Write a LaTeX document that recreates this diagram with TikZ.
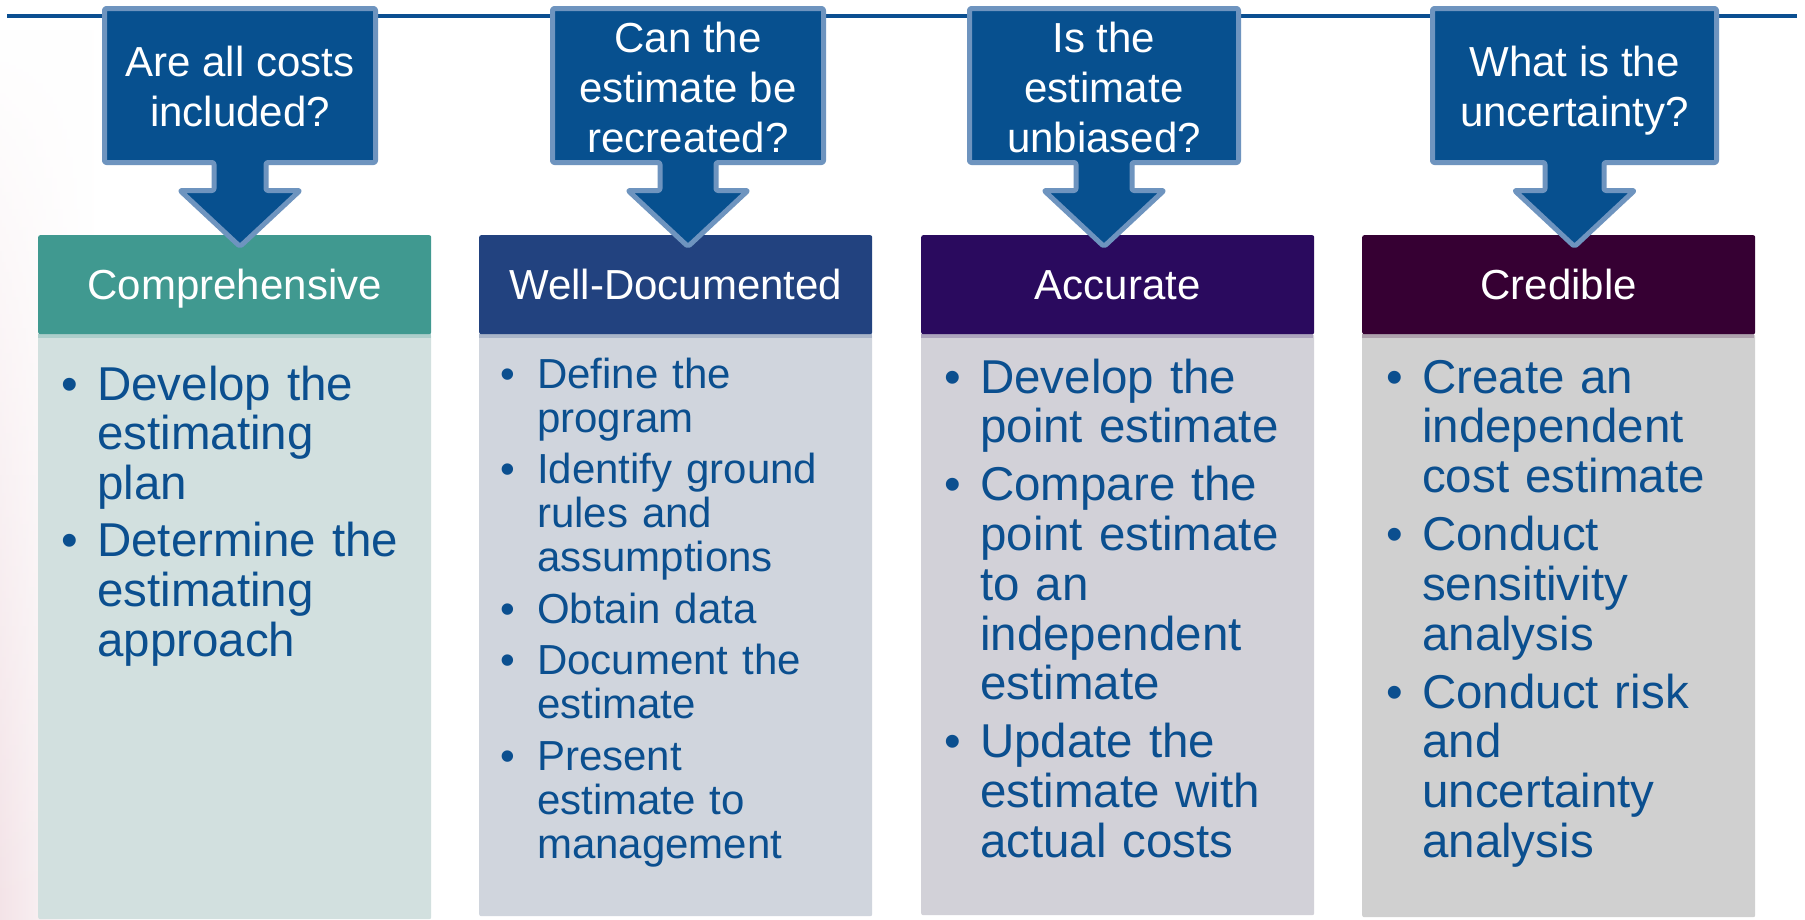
\documentclass[tikz,border=0pt]{standalone}
\usepackage{fontspec}
\setmainfont{Liberation Sans}
\usetikzlibrary{fadings}

\definecolor{callfill}{HTML}{07508F}
\definecolor{callrim}{HTML}{6E94BF}
\definecolor{toprule}{HTML}{0B4F91}
\definecolor{txtblue}{HTML}{0B4F8F}
\definecolor{hdA}{HTML}{409990}\definecolor{bdA}{HTML}{D2E0DF}
\definecolor{hdB}{HTML}{22427F}\definecolor{bdB}{HTML}{D0D5DD}
\definecolor{hdC}{HTML}{2A0A5E}\definecolor{bdC}{HTML}{D2D1D8}
\definecolor{hdD}{HTML}{360033}\definecolor{bdD}{HTML}{D0D0D0}
\definecolor{haze}{HTML}{F3E3E7}

% one bulleted entry with hanging indent; lines are broken by hand with \newline
\newcommand{\bul}[2][36pt]{\hangindent=#1\hangafter=1\noindent\makebox[#1][l]{\textbullet}#2\par}

% question box with a downward arrow: centre x, box half width, stem half width, name, first baseline, text
\newcommand{\callout}[6]{%
  \draw[callshape] (#1-#2,8.5) -- (#1+#2,8.5) -- (#1+#2,162.5) -- (#1+#3,162.5)
    -- (#1+#3,190.5) -- (#1+60,190.5) -- (#1,246.5) -- (#1-60,190.5)
    -- (#1-#3,190.5) -- (#1-#3,162.5) -- (#1-#2,162.5) -- cycle;
  \node[calltext] (#4) at (#1,#5-31) {\rule{0pt}{31pt}#6};
}

\begin{document}
\begin{tikzpicture}[x=1pt,y=-1pt,
  callshape/.style={fill=callfill,draw=callrim,line width=5pt,line join=round,rounded corners=2pt},
  calltext/.style={anchor=north,inner sep=0pt,align=center,text=white,
    font=\fontsize{42}{50}\selectfont},
  headbox/.style={anchor=north west,inner sep=0pt,minimum width=393pt,minimum height=99pt,
    rounded corners=2pt,text=white,text height=30pt,text depth=0pt,
    font=\fontsize{42}{50}\selectfont},
  bodybox/.style={anchor=north west,inner sep=0pt,minimum width=393pt,rounded corners=2pt},
  bodytext/.style={anchor=north west,inner sep=0pt,text width=370pt,text=txtblue,
    font=\fontsize{47.5}{49.7}\selectfont},
  smalltext/.style={bodytext,font=\fontsize{42}{44}\selectfont}]

\useasboundingbox (0,0) rectangle (1805,919);
\fill[white] (0,0) rectangle (1805,919);
% faint tint along the left edge, fading out towards the top
\shade[left color=haze,right color=white,path fading=north] (0,30) rectangle (95,919);

% rule across the top
\coordinate (ruleL) at (7,16);
\coordinate (ruleR) at (1797,16);
\draw[toprule,line width=4pt] (ruleL) -- (ruleR);

% column bodies
\node[bodybox,fill=bdA,minimum height=585pt] (bA) at (38,334) {};
\node[bodybox,fill=bdB,minimum height=582pt] (bB) at (479,334) {};
\node[bodybox,fill=bdC,minimum height=581pt] (bC) at (921,334) {};
\node[bodybox,fill=bdD,minimum height=583pt] (bD) at (1362,334) {};
\fill[hdA!25!bdA] (38,334) rectangle (431,338);
\fill[hdB!22!bdB] (479,334) rectangle (872,338);
\fill[hdC!22!bdC] (921,334) rectangle (1313,338);
\fill[hdD!22!bdD] (1362,334) rectangle (1754,338);

% column headings
\node[headbox,fill=hdA] (hA) at (38,235) {Comprehensive};
\node[headbox,fill=hdB] (hB) at (479,235) {Well-Documented};
\node[headbox,fill=hdC] (hC) at (921,235) {Accurate};
\node[headbox,fill=hdD] (hD) at (1362,235) {Credible};

% question callouts
\callout{240}{135.5}{26}{qA}{76}{Are all costs\\included?}
\callout{688}{135.5}{28}{qB}{52}{Can the\\estimate be\\recreated?}
\callout{1104}{134.5}{28}{qC}{52}{Is the\\estimate\\unbiased?}
\callout{1574.5}{142}{29.5}{qD}{76}{What is the\\uncertainty?}

% bullet lists
\node[bodytext] (tA) at (61,364) {%
  \bul{\rule{0pt}{36pt}Develop the\newline estimating\newline plan}%
  \setlength{\parskip}{7.3pt}%
  \bul{Determine the\newline estimating\newline approach}};

\node[smalltext] (tB) at (500,356) {%
  \bul[37pt]{\rule{0pt}{32pt}Define the\newline program}%
  \setlength{\parskip}{7.5pt}%
  \bul[37pt]{Identify ground\newline rules and\newline assumptions}%
  \bul[37pt]{Obtain data}%
  \bul[37pt]{Document the\newline estimate}%
  \bul[37pt]{Present\newline estimate to\newline management}};

\node[bodytext] (tC) at (944,357) {%
  \bul{\rule{0pt}{36pt}Develop the\newline point estimate}%
  \setlength{\parskip}{8.3pt}%
  \bul{Compare the\newline point estimate\newline to an\newline independent\newline estimate}%
  \bul{Update the\newline estimate with\newline actual costs}};

\node[bodytext] (tD) at (1386,357) {%
  \bul{\rule{0pt}{36pt}Create an\newline independent\newline cost estimate}%
  \setlength{\parskip}{8.3pt}%
  \bul{Conduct\newline sensitivity\newline analysis}%
  \bul{Conduct risk\newline and\newline uncertainty\newline analysis}};

\end{tikzpicture}
\end{document}
